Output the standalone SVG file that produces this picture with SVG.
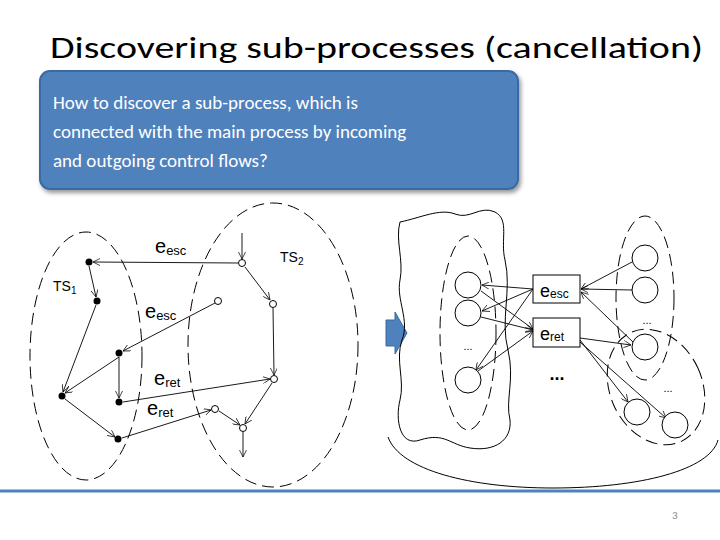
<svg xmlns="http://www.w3.org/2000/svg" width="720" height="540" viewBox="0 0 720 540">
<defs>
<marker id="a" viewBox="0 0 10 10" refX="10" refY="5" markerWidth="8" markerHeight="8" orient="auto-start-reverse"><path d="M0,0 L10,5 L0,10" fill="none" stroke="#000" stroke-width="1"/></marker>
<filter id="sh" x="-5%" y="-5%" width="115%" height="125%"><feDropShadow dx="2" dy="3" stdDeviation="2" flood-opacity="0.4"/></filter>
</defs>
<style>
.d{fill:none;stroke:#000;stroke-width:1;stroke-dasharray:12,6}
.l{fill:none;stroke:#000;stroke-width:0.9;marker-end:url(#a)}
.f{fill:#000}
.o{fill:#fff;stroke:#000;stroke-width:1}
.c{fill:#fff;stroke:#000;stroke-width:1}
.t{font-family:"Liberation Sans",Arial,sans-serif;fill:#000}
</style>
<rect width="720" height="540" fill="#fff"/>
<text x="50" y="58" font-family="Carlito,'Open Sans',sans-serif" font-size="31" textLength="653" lengthAdjust="spacingAndGlyphs">Discovering sub-processes (cancellation)</text>
<g id="callout">
<rect x="40" y="71" width="478" height="118" rx="10" fill="#4F81BD" stroke="#3B6BA2" stroke-width="2" filter="url(#sh)"/>
<g font-family="Carlito,'Open Sans',sans-serif" font-size="19" fill="#fff">
<text x="53" y="109">How to discover a sub-process, which is</text>
<text x="53" y="138">connected with the main process by incoming</text>
<text x="53" y="167">and outgoing control flows?</text>
</g>
</g>
<g id="left-diagram">
<ellipse class="d" cx="86" cy="356" rx="56" ry="124"/>
<ellipse class="d" cx="273" cy="345" rx="85" ry="142"/>
<g id="conn-left">
<line class="l" x1="242" y1="233" x2="242" y2="259"/>
<line class="l" x1="238" y1="263" x2="93" y2="262"/>
<line class="l" x1="89" y1="266" x2="96" y2="297"/>
<line class="l" x1="245" y1="267" x2="270" y2="300"/>
<line class="l" x1="215" y1="303" x2="123" y2="351"/>
<line class="l" x1="119" y1="357" x2="65" y2="393"/>
<line class="l" x1="96" y1="305" x2="63" y2="392"/>
<line class="l" x1="119" y1="357" x2="119" y2="398"/>
<line class="l" x1="273" y1="308" x2="274" y2="375"/>
<line class="l" x1="123" y1="402" x2="270" y2="379"/>
<line class="l" x1="65" y1="399" x2="115" y2="437"/>
<line class="l" x1="122" y1="438" x2="211" y2="410"/>
<line class="l" x1="219" y1="411" x2="240" y2="425"/>
<line class="l" x1="272" y1="383" x2="245" y2="424"/>
<line class="l" x1="243" y1="432" x2="243" y2="457"/>
</g>
<g id="ts1-nodes">
<circle class="f" cx="89" cy="262" r="3.5"/><circle class="f" cx="97" cy="301" r="3.5"/>
<circle class="f" cx="119" cy="353" r="3.5"/><circle class="f" cx="62" cy="396" r="3.5"/>
<circle class="f" cx="119" cy="402" r="3.5"/><circle class="f" cx="118" cy="439" r="3.5"/>
</g>
<g id="ts2-nodes">
<circle class="o" cx="242" cy="263" r="3.5"/><circle class="o" cx="218" cy="301" r="3.5"/>
<circle class="o" cx="273" cy="304" r="3.5"/><circle class="o" cx="274" cy="379" r="3.5"/>
<circle class="o" cx="215" cy="409" r="3.5"/><circle class="o" cx="243" cy="428" r="3.5"/>
</g>
<g class="t" font-size="20">
<text x="155" y="253">e<tspan font-size="13" dy="2">esc</tspan></text>
<text x="145" y="318">e<tspan font-size="13" dy="2">esc</tspan></text>
<text x="154" y="385">e<tspan font-size="13" dy="2">ret</tspan></text>
<text x="147" y="415">e<tspan font-size="13" dy="2">ret</tspan></text>
</g>
<text class="t" x="53" y="291" font-size="14">TS<tspan font-size="10" dy="3">1</tspan></text>
<text class="t" x="280" y="262" font-size="14">TS<tspan font-size="10" dy="3">2</tspan></text>
</g>
<path id="big-arrow" d="M386,320 H395 V312 L407,333 L395,354 V346 H386 Z" fill="#4F81BD" stroke="#3B6BA2"/>
<g id="right-diagram">
<path d="M400,222 C420,218 440,208 455,214 C470,220 480,205 495,212 C510,220 500,240 505,260 C512,290 500,320 508,350 C515,380 505,400 510,420 C512,440 495,452 470,448 C450,445 445,432 420,440 C400,447 395,420 400,400 C405,380 395,360 402,340 C410,320 396,300 400,280 C404,260 395,240 400,222 Z" fill="none" stroke="#000"/>
<path d="M388,437 C400,470 470,488 553,488 C640,488 710,470 718,440" fill="none" stroke="#000"/>
<ellipse class="d" cx="468" cy="333" rx="28" ry="97"/>
<ellipse class="d" cx="645" cy="298" rx="29" ry="82"/>
<ellipse class="d" cx="656" cy="387" rx="46" ry="60" transform="rotate(-25 656 387)"/>
<g id="conn-right">
<line class="l" x1="533" y1="289" x2="482" y2="285"/>
<line class="l" x1="533" y1="289" x2="482" y2="311"/>
<line class="l" x1="533" y1="289" x2="476" y2="370"/>
<line class="l" x1="481" y1="291" x2="533" y2="329"/>
<line class="l" x1="481" y1="317" x2="533" y2="330"/>
<line class="l" x1="478" y1="371" x2="533" y2="331"/>
<line class="l" x1="632" y1="262" x2="581" y2="289"/>
<line class="l" x1="632" y1="290" x2="581" y2="289"/>
<line class="l" x1="633" y1="342" x2="581" y2="292"/>
<line class="l" x1="580" y1="338" x2="631" y2="345"/>
<line class="l" x1="580" y1="340" x2="628" y2="402"/>
<line class="l" x1="580" y1="342" x2="666" y2="418"/>
</g>
<g id="left-sub">
<circle class="c" cx="468" cy="285" r="13"/><circle class="c" cx="468" cy="313" r="13"/>
<circle class="c" cx="468" cy="380" r="13"/>
<text class="t" x="468" y="350" font-size="11" text-anchor="middle">...</text>
</g>
<g id="box-esc"><rect x="533" y="275" width="47" height="28" fill="#fff" stroke="#000"/>
<text class="t" x="540" y="297" font-size="18">e<tspan font-size="12" dy="1">esc</tspan></text></g>
<g id="box-ret"><rect x="533" y="318" width="47" height="29" fill="#fff" stroke="#000"/>
<text class="t" x="540" y="340" font-size="18">e<tspan font-size="12" dy="1">ret</tspan></text></g>
<text class="t" x="557" y="380" font-size="18" font-weight="bold" text-anchor="middle">...</text>
<g id="right-sub">
<circle class="c" cx="645" cy="258" r="13"/><circle class="c" cx="645" cy="290" r="13"/>
<circle class="c" cx="645" cy="347" r="13"/>
<text class="t" x="647" y="324" font-size="11" text-anchor="middle">...</text>
<circle class="c" cx="637" cy="412" r="13"/><circle class="c" cx="675" cy="425" r="13"/>
<text class="t" x="668" y="392" font-size="11" text-anchor="middle">...</text>
</g>
</g>
<line x1="0" y1="491" x2="720" y2="491" stroke="#4F81BD" stroke-width="3"/>
<text x="672" y="519" font-family="Carlito,'Open Sans',sans-serif" font-size="11" fill="#888">3</text>
</svg>
